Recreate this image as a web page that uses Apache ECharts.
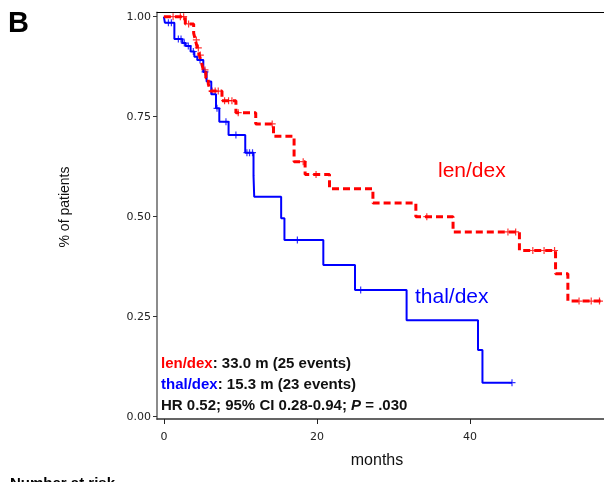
<!DOCTYPE html>
<html>
<head>
<meta charset="utf-8">
<script src="https://cdn.jsdelivr.net/npm/echarts@6/dist/echarts.min.js"></script>
<style>
  html, body { margin: 0; padding: 0; background: #fff; }
  #chart { width: 604px; height: 482px; }
</style>
</head>
<body>
<div id="chart"></div>
<script>
// Curvas de supervivencia (meses, proporción)
var lenTime = [0, 2.8, 3.89, 4.11, 4.37, 4.63, 4.89, 5.15, 5.48, 5.8, 6.06, 7.59, 9.41, 12.0, 14.32, 17.01, 18.45, 21.64, 27.31, 32.92, 37.78, 46.45, 51.17, 52.78, 57.5];
var lenSurv = [1.0, 0.982, 0.959, 0.942, 0.922, 0.904, 0.887, 0.867, 0.847, 0.832, 0.814, 0.79, 0.76, 0.732, 0.701, 0.6375, 0.6055, 0.57, 0.534, 0.50, 0.462, 0.4155, 0.3575, 0.289, 0.289];
var lenCensTime = [1.2, 2.15, 2.58, 3.23, 4.24, 4.5, 4.76, 5.37, 6.3, 6.7, 7.1, 7.93, 8.45, 8.89, 9.71, 14.15, 18.2, 19.88, 34.35, 44.95, 45.96, 48.2, 49.67, 51.04, 54.24, 55.83, 56.91];
var lenCensSurv = [1, 1, 1, 0.982, 0.942, 0.922, 0.904, 0.867, 0.814, 0.814, 0.814, 0.79, 0.79, 0.79, 0.76, 0.732, 0.6375, 0.6055, 0.5, 0.462, 0.462, 0.4155, 0.4155, 0.4155, 0.289, 0.289, 0.289];

var thalTime = [0, 0.13, 1.37, 2.41, 2.84, 3.49, 3.98, 4.37, 5.15, 5.58, 6.19, 6.81, 7.24, 8.45, 10.63, 11.71, 11.8, 15.32, 15.75, 20.83, 24.97, 31.71, 41.04, 41.62, 45.48];
var thalSurv = [1, 0.985, 0.944, 0.934, 0.927, 0.913, 0.9, 0.892, 0.862, 0.838, 0.806, 0.771, 0.7375, 0.704, 0.66, 0.602, 0.55, 0.496, 0.442, 0.379, 0.317, 0.241, 0.167, 0.085, 0.085];
var thalCensTime = [0.59, 0.98, 1.89, 2.24, 2.67, 3.19, 3.85, 4.72, 5.37, 6.94, 8.11, 9.41, 10.85, 11.19, 11.58, 17.44, 25.71, 45.48];
var thalCensSurv = [0.985, 0.985, 0.944, 0.944, 0.934, 0.927, 0.913, 0.892, 0.862, 0.771, 0.7375, 0.704, 0.66, 0.66, 0.66, 0.442, 0.317, 0.085];

var xTicks = [0, 20, 40];
var yTicks = [0, 0.25, 0.5, 0.75, 1];

function pares(t, s) {
  return t.map(function (v, i) { return [v, s[i]]; });
}

var rojo = '#ff0000';
var azul = '#0000ff';
var cruz = 'path://M5,0L5,10M0,5L10,5';
var fuente = '"Liberation Sans", Arial, sans-serif';

var chart = echarts.init(document.getElementById('chart'));

var option = {
  animation: false,
  grid: { left: 157, top: 12.5, width: 447, height: 406.5 },
  xAxis: [
    {
      type: 'value',
      min: -0.9,
      max: 57.5,
      splitLine: { show: false },
      axisLine: { onZero: false, lineStyle: { color: '#333', width: 1.5 } },
      axisTick: { customValues: xTicks, length: 5, lineStyle: { color: '#222' } },
      axisLabel: {
        customValues: xTicks,
        margin: 13,
        fontFamily: '"DejaVu Sans"',
        fontSize: 11,
        color: '#222'
      }
    },
    {
      type: 'value',
      position: 'top',
      min: -0.9,
      max: 57.5,
      splitLine: { show: false },
      axisLine: { show: true, onZero: false, lineStyle: { color: '#000', width: 1.2 } },
      axisTick: { show: false },
      axisLabel: { show: false }
    }
  ],
  yAxis: {
    type: 'value',
    min: -0.00575,
    max: 1.0105,
    splitLine: { show: false },
    axisLine: { show: true, onZero: false, lineStyle: { color: '#8c8c8c', width: 2 } },
    axisTick: { show: true, customValues: yTicks, length: 4, lineStyle: { color: '#333' } },
    axisLabel: {
      customValues: yTicks,
      margin: 6,
      fontFamily: '"DejaVu Sans"',
      fontSize: 11,
      color: '#222',
      formatter: function (v) { return v.toFixed(2); }
    }
  },
  series: [
    {
      type: 'line',
      step: 'end',
      showSymbol: false,
      data: pares(thalTime, thalSurv),
      lineStyle: { color: azul, width: 2 }
    },
    {
      type: 'scatter',
      symbol: cruz,
      symbolSize: 7,
      data: pares(thalCensTime, thalCensSurv),
      itemStyle: { color: 'none', borderColor: azul, borderWidth: 1.2 }
    },
    {
      type: 'line',
      step: 'end',
      showSymbol: false,
      data: pares(lenTime, lenSurv),
      lineStyle: { color: rojo, width: 3, type: [7, 4] }
    },
    {
      type: 'scatter',
      symbol: cruz,
      symbolSize: 7,
      data: pares(lenCensTime, lenCensSurv),
      itemStyle: { color: 'none', borderColor: rojo, borderWidth: 1.2 }
    }
  ],
  graphic: [
    { type: 'text', left: 8, top: 9, style: { text: 'B', font: 'bold 29px ' + fuente, fill: '#000' } },
    { type: 'text', x: 65, y: 207, rotation: Math.PI / 2,
      style: { text: '% of patients', font: '14px ' + fuente, fill: '#111', align: 'center', verticalAlign: 'middle' } },
    { type: 'text', x: 377, y: 461,
      style: { text: 'months', font: '16px ' + fuente, fill: '#111', align: 'center', verticalAlign: 'middle' } },
    { type: 'text', x: 438, y: 171,
      style: { text: 'len/dex', font: '21px ' + fuente, fill: rojo, align: 'left', verticalAlign: 'middle' } },
    { type: 'text', x: 415, y: 297,
      style: { text: 'thal/dex', font: '21px ' + fuente, fill: azul, align: 'left', verticalAlign: 'middle' } },
    { type: 'text', x: 161, y: 364,
      style: {
        text: '{r|len/dex}: 33.0 m (25 events)',
        font: 'bold 15px ' + fuente, fill: '#111', align: 'left', verticalAlign: 'middle',
        rich: { r: { fill: rojo, fontWeight: 'bold', fontSize: 15, fontFamily: fuente } }
      } },
    { type: 'text', x: 161, y: 385,
      style: {
        text: '{b|thal/dex}: 15.3 m (23 events)',
        font: 'bold 15px ' + fuente, fill: '#111', align: 'left', verticalAlign: 'middle',
        rich: { b: { fill: azul, fontWeight: 'bold', fontSize: 15, fontFamily: fuente } }
      } },
    { type: 'text', x: 161, y: 405.5,
      style: {
        text: 'HR 0.52; 95% CI 0.28-0.94; {i|P} = .030',
        font: 'bold 15px ' + fuente, fill: '#111', align: 'left', verticalAlign: 'middle',
        rich: { i: { fill: '#111', fontWeight: 'bold', fontStyle: 'italic', fontSize: 15, fontFamily: fuente } }
      } },
    { type: 'text', left: 10, top: 476, style: { text: 'Number at risk', font: 'bold 15px ' + fuente, fill: '#000' } }
  ]
};

chart.setOption(option);
</script>
</body>
</html>
